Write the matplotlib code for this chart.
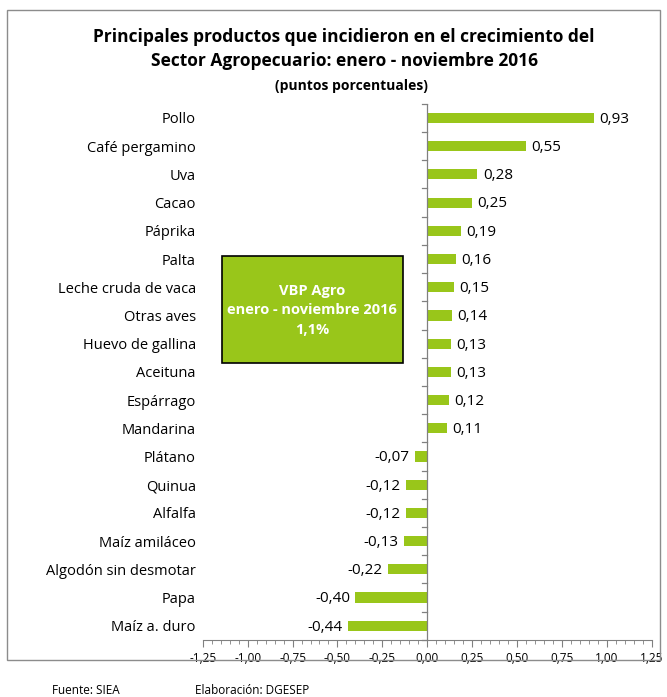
import matplotlib.pyplot as plt
from matplotlib.patches import Rectangle
from matplotlib.ticker import MultipleLocator
import numpy as np

productos = ['Pollo', 'Café pergamino', 'Uva', 'Cacao', 'Páprika', 'Palta',
             'Leche cruda de vaca', 'Otras aves', 'Huevo de gallina', 'Aceituna',
             'Espárrago', 'Mandarina', 'Plátano', 'Quinua', 'Alfalfa',
             'Maíz amiláceo', 'Algodón sin desmotar', 'Papa', 'Maíz a. duro']
puntos = [0.93, 0.55, 0.28, 0.25, 0.19, 0.16, 0.15, 0.14, 0.13, 0.13,
          0.12, 0.11, -0.07, -0.12, -0.12, -0.13, -0.22, -0.40, -0.44]
x_ticks = [-1.25, -1.00, -0.75, -0.50, -0.25, 0.00, 0.25, 0.50, 0.75, 1.00, 1.25]

verde = '#99C61A'
fuente = 'Open Sans'

fig = plt.figure(figsize=(6.67, 6.97), dpi=100)
ax = fig.add_axes([0.304, 0.082, 0.673, 0.769])

y = np.arange(len(productos))
ax.barh(y, puntos, height=0.36, color=verde, zorder=3)
ax.set_ylim(len(productos) - 0.5, -0.5)
ax.set_xlim(-1.25, 1.25)

# value labels
for yi, v in zip(y, puntos):
    lbl = '{:.2f}'.format(v).replace('.', ',')
    if v >= 0:
        ax.text(v + 0.03, yi + 0.05, lbl, ha='left', va='center', fontsize=11, family=fuente)
    else:
        ax.text(v - 0.03, yi + 0.05, lbl, ha='right', va='center', fontsize=11, family=fuente)

# y axis drawn at zero, category labels stay at the far left
for s in ['top', 'right', 'left']:
    ax.spines[s].set_visible(False)
ax.spines['bottom'].set_color('#808080')
ax.axvline(0, color='#808080', lw=0.9, zorder=4)
for b in np.arange(-0.5, len(productos), 1.0):
    ax.plot([-0.03, 0], [b, b], color='#808080', lw=0.9, zorder=4, clip_on=False)
ax.set_yticks(y)
ax.set_yticklabels(productos, fontsize=10.5, family=fuente)
ax.tick_params(axis='y', length=0, pad=5)

ax.set_xticks(x_ticks)
ax.set_xticklabels(['{:.2f}'.format(t).replace('.', ',') for t in x_ticks],
                   fontsize=8.5, family=fuente)
ax.xaxis.set_minor_locator(MultipleLocator(0.05))
ax.tick_params(axis='x', which='major', length=5, color='#808080')
ax.tick_params(axis='x', which='minor', length=3, color='#808080')

# VBP box
box = Rectangle((222 / 667, 1 - 363 / 697), 181 / 667, 107 / 697, transform=fig.transFigure,
                facecolor=verde, edgecolor='black', lw=1.2, zorder=5)
fig.patches.append(box)
fig.text(312 / 667, 1 - 310 / 697, 'VBP Agro\nenero - noviembre 2016\n1,1%', color='white',
         ha='center', va='center', fontsize=10.5, fontweight='bold', family=fuente,
         linespacing=1.5, zorder=6)

# title
fig.text(344 / 667, 1 - 37 / 697, 'Principales productos que incidieron en el crecimiento del',
         ha='center', va='center', fontsize=12.5, fontweight='bold', family=fuente)
fig.text(344 / 667, 1 - 61 / 697, 'Sector Agropecuario: enero - noviembre 2016',
         ha='center', va='center', fontsize=12.5, fontweight='bold', family=fuente)
fig.text(351 / 667, 1 - 86 / 697, '(puntos porcentuales)',
         ha='center', va='center', fontsize=10, fontweight='bold', family=fuente)

# outer frame
frame = Rectangle((7 / 667, 1 - 660 / 697), 653 / 667, 650 / 697, transform=fig.transFigure,
                  facecolor='none', edgecolor='#8c8c8c', lw=1.0)
fig.patches.append(frame)

fig.text(52 / 667, 1 - 690 / 697, 'Fuente: SIEA', fontsize=8.5, va='center', family=fuente)
fig.text(195 / 667, 1 - 690 / 697, 'Elaboración: DGESEP', fontsize=8.5, va='center', family=fuente)

plt.savefig('out.png', dpi=100)
plt.close()
